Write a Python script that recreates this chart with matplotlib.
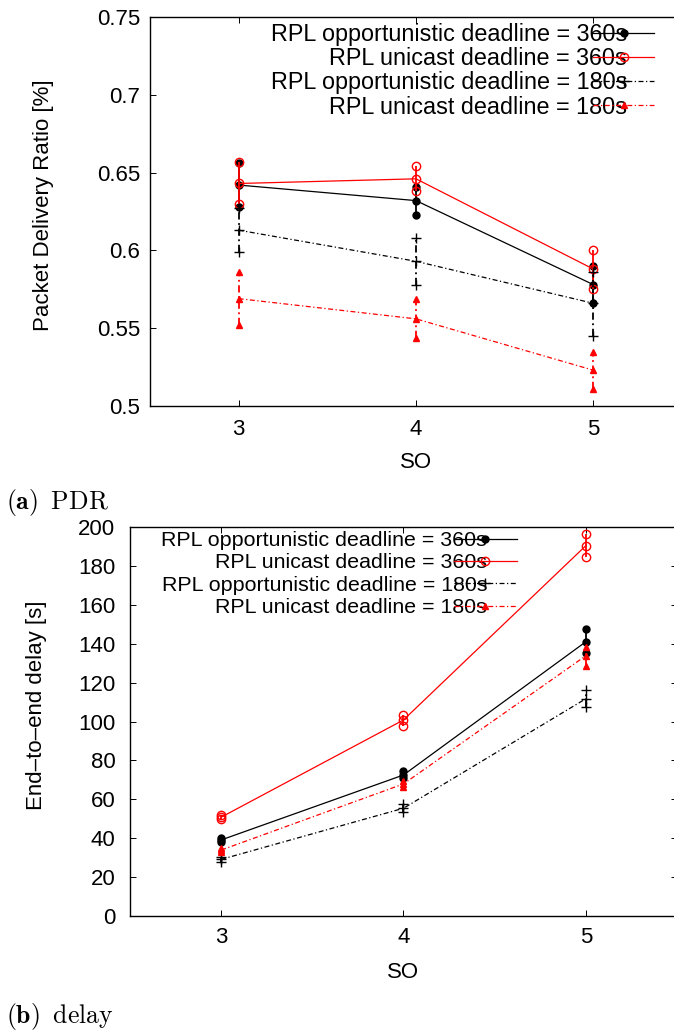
import matplotlib
matplotlib.use("Agg")
import matplotlib.pyplot as plt
from matplotlib.ticker import FormatStrFormatter, FuncFormatter

plt.rcParams['font.family'] = ['Liberation Sans', 'DejaVu Sans']
plt.rcParams['mathtext.fontset'] = 'cm'

# ---------------- data ----------------
so = [3, 4, 5]

labels = ["RPL opportunistic deadline = 360s",
          "RPL unicast deadline = 360s",
          "RPL opportunistic deadline = 180s",
          "RPL unicast deadline = 180s"]

pdr_opp360 = [0.642, 0.632, 0.578]
pdr_opp360_lo = [0.628, 0.623, 0.566]
pdr_opp360_hi = [0.656, 0.641, 0.590]

pdr_uni360 = [0.643, 0.646, 0.588]
pdr_uni360_lo = [0.630, 0.638, 0.575]
pdr_uni360_hi = [0.657, 0.654, 0.600]

pdr_opp180 = [0.613, 0.593, 0.566]
pdr_opp180_lo = [0.599, 0.578, 0.545]
pdr_opp180_hi = [0.627, 0.608, 0.586]

pdr_uni180 = [0.569, 0.556, 0.523]
pdr_uni180_lo = [0.552, 0.544, 0.511]
pdr_uni180_hi = [0.586, 0.569, 0.535]

del_opp360 = [39.1, 72.5, 141.0]
del_opp360_lo = [37.8, 70.8, 135.0]
del_opp360_hi = [40.3, 74.5, 147.4]

del_uni360 = [50.8, 100.8, 190.4]
del_uni360_lo = [49.8, 97.7, 184.4]
del_uni360_hi = [52.0, 103.3, 196.3]

del_opp180 = [29.1, 55.4, 111.7]
del_opp180_lo = [28.0, 53.6, 107.4]
del_opp180_hi = [30.5, 57.4, 116.2]

del_uni180 = [33.9, 67.9, 133.8]
del_uni180_lo = [33.0, 66.4, 128.6]
del_uni180_hi = [34.8, 69.2, 138.5]

pdr_yticks = [0.5, 0.55, 0.6, 0.65, 0.7, 0.75]
del_yticks = [0, 20, 40, 60, 80, 100, 120, 140, 160, 180, 200]

# ---------------- styles ----------------
dashdot = (0, (4, 2, 1, 2))
styles = [
    dict(color='black', ls='-', marker='o', mfc='black', ms=5),
    dict(color='#ff0000', ls='-', marker='o', mfc='none', ms=6),
    dict(color='black', ls=dashdot, marker='+', mfc='black', ms=7),
    dict(color='#ff0000', ls=dashdot, marker='^', mfc='#ff0000', ms=4.5),
]

W, H = 674, 1034
fig = plt.figure(figsize=(W / 100, H / 100), dpi=100)


def px_axes(left, right, top, bottom):
    return fig.add_axes([left / W, 1 - bottom / H, (right - left) / W, (bottom - top) / H])


def draw(ax, series, ylo, yhi, yticks, fmt, ypad, xpad, legend_px, legfs,
         hlen, hpad, lspace):
    handles = []
    for (mean, lo, hi), st, lab in zip(series, styles, labels):
        ax.vlines(so, lo, hi, colors=st['color'], linestyles=st['ls'], lw=1.3)
        for ends in (lo, hi):
            ax.plot(so, ends, ls='none', marker=st['marker'], color=st['color'],
                    mfc=st['mfc'], ms=st['ms'], mew=1.0)
        h, = ax.plot(so, mean, ls=st['ls'], lw=0.9, color=st['color'],
                     marker=st['marker'], mfc=st['mfc'], ms=st['ms'], mew=1.0, label=lab)
        handles.append(h)
    ax.set_xlim(2.5, 5.5)
    ax.set_ylim(ylo, yhi)
    ax.set_xticks(so)
    ax.set_yticks(yticks)
    ax.yaxis.set_major_formatter(fmt)
    ax.tick_params(direction='in', length=4.5, width=0.7, top=True, right=True,
                   labelsize=16)
    ax.tick_params(axis='y', pad=ypad)
    ax.tick_params(axis='x', pad=xpad)
    for s in ax.spines.values():
        s.set_linewidth(1.0)
    ax.set_xlabel('SO', fontsize=16)
    ax.xaxis.set_label_coords(0.5, -0.118)
    xr, ytop = legend_px
    leg = ax.legend(handles=handles, loc='upper right', frameon=False,
                    markerfirst=False, numpoints=1, fontsize=legfs,
                    handlelength=hlen, handletextpad=hpad, labelspacing=lspace,
                    borderpad=0, borderaxespad=0,
                    bbox_to_anchor=(xr / W, 1 - ytop / H),
                    bbox_transform=fig.transFigure)
    return leg


ax1 = px_axes(150, 682, 17, 406)
draw(ax1, [(pdr_opp360, pdr_opp360_lo, pdr_opp360_hi),
           (pdr_uni360, pdr_uni360_lo, pdr_uni360_hi),
           (pdr_opp180, pdr_opp180_lo, pdr_opp180_hi),
           (pdr_uni180, pdr_uni180_lo, pdr_uni180_hi)],
     0.5, 0.75, pdr_yticks, FuncFormatter(lambda v, p: f"{v:g}"), 7.2, 9.5,
     (654, 23), 16.8, 2.6, -1.45, 0.05)
ax1.set_ylabel('Packet Delivery Ratio [%]', fontsize=16)
ax1.yaxis.set_label_coords((54 - 150) / 532, 0.515)

ax2 = px_axes(130, 677, 527, 916)
draw(ax2, [(del_opp360, del_opp360_lo, del_opp360_hi),
           (del_uni360, del_uni360_lo, del_uni360_hi),
           (del_opp180, del_opp180_lo, del_opp180_hi),
           (del_uni180, del_uni180_lo, del_uni180_hi)],
     0, 200, del_yticks, FormatStrFormatter('%d'), 10.5, 8,
     (517, 531), 15.4, 2.95, -1.55, 0.16)
ax2.set_ylabel('End\u2013to\u2013end delay [s]', fontsize=16)
ax2.yaxis.set_label_coords((47 - 130) / 547, 0.542)

fig.text(6 / W, 1 - 509 / H, r'$\mathbf{(a)}\;\;\mathrm{PDR}$', fontsize=18.5,
         ha='left', va='baseline')
fig.text(6 / W, 1 - 1023 / H, r'$\mathbf{(b)}\;\;\mathrm{delay}$', fontsize=18.5,
         ha='left', va='baseline')

fig.savefig('out.png', dpi=100)
